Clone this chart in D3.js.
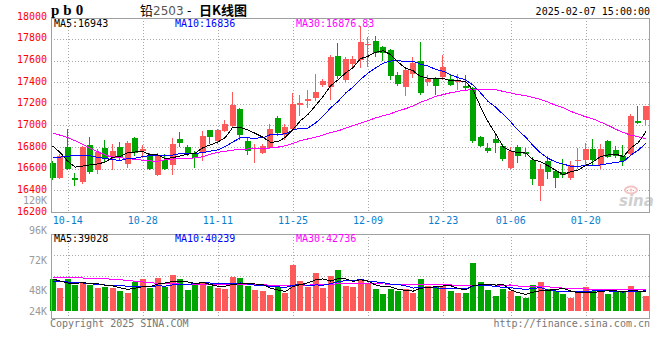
<!DOCTYPE html>
<html><head><meta charset="utf-8">
<script src="https://cdnjs.cloudflare.com/ajax/libs/d3/7.8.5/d3.min.js"></script>
<style>body{margin:0;background:#fff}svg{display:block}</style>
</head><body>
<svg id="c" width="660" height="360"></svg>
<script>
const dates = ["10-10","10-11","10-14","10-15","10-16","10-17","10-18","10-21","10-22","10-23","10-24","10-25","10-28","10-29","10-30","10-31",
"11-01","11-04","11-05","11-06","11-07","11-08","11-11","11-12","11-13","11-14","11-15","11-18","11-19","11-20","11-21","11-22","11-25","11-26","11-27","11-28","11-29",
"12-02","12-03","12-04","12-05","12-06","12-09","12-10","12-11","12-12","12-13","12-16","12-17","12-18","12-19","12-20","12-23","12-24","12-25","12-26","12-27","12-30","12-31",
"01-02","01-03","01-06","01-07","01-08","01-09","01-10","01-13","01-14","01-15","01-16","01-17","01-20","01-21","01-22","01-23","01-24","01-27",
"02-05","02-06","02-07"];
const open  = [16655,16510,16800,16510,16480,16820,16585,16795,16710,16800,16640,16885,16765,16730,16545,16685,16630,16875,16805,16750,16750,16955,16860,16945,16994,17152,16861,16780,16745,16788,17070,16909,16964,17191,17224,17252,17370,17358,17642,17424,17564,17609,17742,17782,17721,17700,17470,17358,17473,17600,17403,17433,17448,17433,17403,17364,17342,16890,16794,16879,16806,16610,16797,16758,16685,16442,16667,16576,16570,16515,16676,16685,16782,16636,16858,16773,16721,16736,17045,17048];
const high  = [16670,16735,16965,16565,16810,16890,16785,16870,16825,16845,16860,16895,16820,16745,16745,16740,16885,16940,16820,16765,16950,16960,16965,17055,17306,17161,16888,16830,16827,17009,17091,17009,17297,17282,17327,17479,17433,17655,17760,17636,17640,17918,17818,17827,17736,17706,17494,17539,17630,17776,17464,17449,17655,17479,17479,17464,17358,16900,16836,16909,16827,16800,16818,16788,16706,16645,16721,16600,16691,16667,16788,16842,16873,16827,16867,16812,16818,17109,17176,17176];
const low   = [16500,16505,16585,16440,16460,16555,16555,16660,16585,16680,16610,16720,16700,16590,16530,16590,16540,16805,16715,16605,16670,16830,16830,16940,16980,16867,16727,16655,16736,16780,16903,16867,16958,17091,17161,17230,17360,17236,17433,17400,17520,17533,17539,17630,17600,17418,17364,17273,17440,17282,17364,17282,17418,17364,17327,17327,16842,16797,16750,16745,16670,16600,16655,16706,16449,16303,16503,16418,16515,16500,16600,16630,16630,16600,16700,16700,16624,16730,17009,17000];
const close = [16510,16720,16600,16495,16800,16570,16755,16690,16765,16700,16840,16750,16780,16595,16730,16600,16830,16838,16735,16695,16900,16895,16955,17010,17191,16909,16767,16795,16806,16970,16927,16988,17197,17206,17242,17312,17409,17636,17455,17615,17618,17776,17752,17673,17667,17455,17379,17509,17576,17297,17433,17364,17539,17373,17418,17349,16858,16812,16761,16836,16691,16760,16721,16736,16503,16600,16570,16515,16539,16636,16685,16782,16685,16782,16706,16721,16667,17091,17024,17176];
const ma5  = [16810,16750,16670,16615,16625,16637,16644,16662,16706,16716,16750,16755,16760,16728,16728,16692,16703,16718,16735,16745,16795,16820,16847,16890,16985,16981,16958,16926,16891,16846,16848,16893,16963,17044,17102,17183,17267,17367,17422,17485,17535,17618,17640,17677,17691,17655,17585,17530,17505,17453,17436,17434,17437,17412,17414,17406,17325,17169,17032,16921,16802,16765,16748,16745,16682,16664,16626,16585,16545,16572,16589,16631,16665,16714,16728,16735,16712,16793,16842,16943];
const ma10 = [16700,16708,16716,16722,16725,16720,16705,16695,16685,16675,16695,16697,16712,16723,16719,16721,16726,16740,16741,16742,16750,16763,16775,16805,16848,16885,16885,16882,16887,16915,16916,16924,16960,16973,16976,17022,17085,17162,17222,17299,17356,17426,17485,17532,17575,17596,17598,17592,17594,17567,17549,17518,17502,17469,17442,17421,17372,17300,17221,17168,17102,17032,16953,16892,16812,16745,16695,16662,16642,16624,16624,16627,16628,16635,16648,16659,16667,16725,16773,16836];
const ma30 = [16930,16910,16888,16858,16827,16790,16758,16725,16708,16703,16693,16688,16678,16672,16670,16683,16690,16692,16697,16700,16712,16735,16752,16762,16772,16778,16783,16786,16789,16792,16800,16812,16835,16860,16876,16891,16912,16935,16950,16975,16999,17020,17045,17070,17090,17108,17135,17155,17180,17215,17240,17270,17285,17303,17315,17327,17330,17333,17333,17330,17315,17300,17285,17275,17258,17240,17215,17185,17165,17130,17105,17080,17060,17030,17000,16965,16935,16910,16895,16877];
const volume = [64600,46000,63400,52600,58600,52000,46000,47400,46600,40000,36400,57400,63400,47000,66000,47400,71400,63400,42000,51400,57400,50600,45400,44600,67400,66000,50000,42000,39400,31400,47400,35400,91400,59400,49000,75400,46000,70000,81400,50000,48000,63400,55400,43400,33400,44600,40600,43400,36600,63400,50000,50000,50000,39400,35400,35400,95400,57400,41400,29400,43400,39400,29400,25400,51400,57400,43400,39400,33400,25400,39400,47400,39400,43400,33400,38000,39400,49400,39400,29400];
const volMa5  = [64000,60000,56000,55000,57000,54500,54500,51300,50100,46400,43300,45600,48800,48800,54000,56200,59000,59000,58000,55100,57100,53000,49400,49900,53100,54800,54700,54000,53000,45800,42000,39100,49000,53000,56500,62100,64200,60000,64400,64600,59100,62600,59600,52000,48700,48000,43500,41100,39700,45700,46800,48700,50000,50600,45000,42000,51100,52600,53000,51800,53400,42200,36600,33400,37800,40600,41400,43400,45000,39800,36200,37000,37000,39000,40600,40300,38700,40700,39900,39028];
const volMa10 = [60000,59000,58000,57000,56000,54500,53000,52000,51500,51700,48900,50000,50000,49500,50200,49800,52300,53900,53400,54600,56700,56000,54200,54000,54100,56000,53800,51700,51400,49400,48400,46900,51500,53000,51100,52100,51700,54500,58700,60500,60600,63400,59800,58200,56600,53600,53000,50400,45900,47200,47400,46100,45500,45100,45300,44400,49900,51300,51800,48400,47700,46700,44600,43200,44800,47000,41800,40000,39200,38800,38400,39200,40200,42000,40200,38300,37900,38900,39500,40239];
const volMa30 = [68000,67500,67000,66500,66000,65500,65000,64500,63500,62500,61000,59500,58000,56500,55500,54500,54200,54000,54000,54000,54000,54000,53800,53500,53300,53000,52700,52400,52100,51900,51300,51000,51900,52100,51800,52600,52600,53400,54500,54800,55200,55400,55200,55000,54000,53900,52800,52200,52000,52400,52100,52100,52300,52100,51000,50000,51500,52000,52100,52000,51900,52000,50000,48800,48900,48300,48200,47200,45600,44800,44500,44000,43400,43400,43400,43200,43200,43400,43500,42736];
const priceTicks = [16200,16400,16600,16800,17000,17200,17400,17600,17800,18000];
const volTickValues = [120000,96000,72000,48000,24000];
const volTickLabels = ["120K","96K","72K","48K","24K"];
const dateTicks = ["10-14","10-28","11-11","11-25","12-09","12-23","01-06","01-20"];

const L = 51, R = 649, PT = 18, PB = 212, VT = 234, VB = 318, VBASE = 311;
const MONO = "'DejaVu Sans Mono', monospace";
const RED = "#ff5a5a", GREEN = "#00a400", GRID = "#a8a8a8", FRAME = "#a0a0a0";

const svg = d3.select("#c");
const x = d3.scalePoint().domain(dates).range([52.7, 645.9]);
const y = d3.scaleLinear().domain([16200, 18000]).range([PB, 17.3]);
const yv = d3.scaleLinear().domain([0, 100000]).range([VBASE, VBASE - 50]);
const yvLab = d3.scaleLinear().domain([24000, 120000]).range([321, 200]);
const px = v => Math.round(v) + 0.5;

// grids
const g = svg.append("g").attr("shape-rendering", "crispEdges");
g.selectAll(".hg").data(priceTicks.filter(v => v > 16200 && v < 18000)).enter().append("line")
  .attr("x1", L).attr("x2", R).attr("y1", d => px(y(d))).attr("y2", d => px(y(d)))
  .attr("stroke", GRID).attr("stroke-dasharray", "1,2");
g.selectAll(".vgp").data(dateTicks).enter().append("line")
  .attr("x1", d => px(x(d))).attr("x2", d => px(x(d))).attr("y1", PT).attr("y2", PB)
  .attr("stroke", GRID).attr("stroke-dasharray", "1,2");
g.selectAll(".vgv").data(dateTicks).enter().append("line")
  .attr("x1", d => px(x(d))).attr("x2", d => px(x(d))).attr("y1", VT).attr("y2", VB)
  .attr("stroke", GRID).attr("stroke-dasharray", "1,2");
g.selectAll(".hgv").data(d3.range(1, 4)).enter().append("line")
  .attr("x1", L).attr("x2", R).attr("y1", k => px(VT + k * (VB - VT) / 4)).attr("y2", k => px(VT + k * (VB - VT) / 4))
  .attr("stroke", GRID).attr("stroke-dasharray", "1,2");

// watermark
const wm = svg.append("g");
wm.append("ellipse").attr("cx", 631).attr("cy", 190).attr("rx", 6).attr("ry", 3.5)
  .attr("fill", "none").attr("stroke", "#f2c4c4").attr("stroke-width", 2);
wm.append("circle").attr("cx", 631).attr("cy", 190).attr("r", 1.5).attr("fill", "#f2c4c4");
wm.append("text").attr("x", 619).attr("y", 206).text("sina")
  .attr("font-family", "'DejaVu Sans', sans-serif").attr("font-size", 15).attr("font-weight", "bold")
  .attr("font-style", "italic").attr("fill", "#cfcfcf");

// candles and volume bars
const cg = svg.append("g").attr("shape-rendering", "crispEdges");
dates.forEach((d, i) => {
  const up = close[i] >= open[i];
  const col = up ? RED : GREEN;
  const bx = Math.round(x(d) - 3);
  cg.append("line").attr("x1", bx + 2.5).attr("x2", bx + 2.5)
    .attr("y1", y(high[i])).attr("y2", y(low[i])).attr("stroke", col);
  const top = y(Math.max(open[i], close[i])), bot = y(Math.min(open[i], close[i]));
  cg.append("rect").attr("x", bx).attr("width", 6)
    .attr("y", Math.round(top)).attr("height", Math.max(1, Math.round(bot) - Math.round(top)))
    .attr("fill", col);
  cg.append("rect").attr("x", bx).attr("width", 6)
    .attr("y", Math.round(yv(volume[i]))).attr("height", VBASE - Math.round(yv(volume[i])))
    .attr("fill", col);
});

// MA lines
const lineP = d3.line().x((d, i) => x(dates[i])).y(d => y(d));
const lineV = d3.line().x((d, i) => x(dates[i])).y(d => yv(d));
[[ma30, "#ff00ff"], [ma10, "#0000ff"], [ma5, "#000000"]].forEach(([arr, c]) =>
  svg.append("path").attr("d", lineP(arr)).attr("fill", "none").attr("stroke", c).attr("stroke-width", 1)
    .attr("shape-rendering", "crispEdges"));
[[volMa30, "#ff00ff"], [volMa10, "#0000ff"], [volMa5, "#000000"]].forEach(([arr, c]) =>
  svg.append("path").attr("d", lineV(arr)).attr("fill", "none").attr("stroke", c).attr("stroke-width", 1)
    .attr("shape-rendering", "crispEdges"));

// frames
const fr = svg.append("g").attr("shape-rendering", "crispEdges").attr("fill", "none").attr("stroke", FRAME);
fr.append("rect").attr("x", L + 0.5).attr("y", PT + 0.5).attr("width", R - L).attr("height", PB - PT);
fr.append("rect").attr("x", L + 0.5).attr("y", VT + 0.5).attr("width", R - L).attr("height", VB - VT);

// axis labels
const t = svg.append("g").attr("font-family", MONO).attr("font-size", 10);
t.selectAll(".pl").data(priceTicks).enter().append("text")
  .attr("x", 47).attr("y", d => y(d) - 1).attr("dy", "0.35em").attr("text-anchor", "end")
  .attr("fill", "#ff0000").text(d => d);
t.selectAll(".vl").data(volTickValues).enter().append("text")
  .attr("x", 47).attr("y", d => Math.min(311, yvLab(d))).attr("dy", "0.35em").attr("text-anchor", "end")
  .attr("fill", "#9a9a9a").text((d, i) => volTickLabels[i]);
t.selectAll(".dl").data(dateTicks).enter().append("text")
  .attr("x", d => Math.max(65, x(d))).attr("y", 220.5).attr("dy", "0.35em").attr("text-anchor", "middle")
  .attr("fill", "#0a7fd0").text(d => d);

// legends
const leg = (yy, items) => items.forEach(([tx, xx, c]) =>
  t.append("text").attr("x", xx).attr("y", yy).attr("dy", "0.35em").attr("fill", c).text(tx));
leg(23, [["MA5:16943", 54, "#000"], ["MA10:16836", 175, "#0000ff"], ["MA30:16876.83", 296, "#ff00ff"]]);
leg(238.5, [["MA5:39028", 54, "#000"], ["MA10:40239", 175, "#0000ff"], ["MA30:42736", 296, "#ff00ff"]]);

// header
svg.append("text").attr("x", 51).attr("y", 15).text("pb0")
  .attr("font-family", "'Liberation Serif', serif").attr("font-size", 15).attr("font-weight", "bold")
  .attr("letter-spacing", "4px").attr("fill", "#000");
const ttl = svg.append("text").attr("y", 15).attr("fill", "#000")
  .attr("font-family", "'Noto Sans CJK SC', sans-serif").attr("font-size", 13);
ttl.append("tspan").attr("x", 140).text("铅");
ttl.append("tspan").attr("fill", "#555").attr("font-family", "'DejaVu Sans', sans-serif").attr("font-size", 12).text("2503");
ttl.append("tspan").attr("x", 187).attr("font-family", "'DejaVu Sans', sans-serif").attr("font-size", 12).text("-");
ttl.append("tspan").attr("x", 199).attr("font-weight", "bold").text("日K线图");
t.append("text").attr("x", 650).attr("y", 11).attr("dy", "0.35em").attr("text-anchor", "end")
  .attr("fill", "#000").text("2025-02-07 15:00:00");

// footer
t.append("text").attr("x", 50).attr("y", 323.5).attr("dy", "0.35em").attr("fill", "#777").text("Copyright 2025 SINA.COM");
t.append("text").attr("x", 650).attr("y", 323.5).attr("dy", "0.35em").attr("text-anchor", "end").attr("fill", "#777").text("http://finance.sina.com.cn");
</script>
</body></html>
